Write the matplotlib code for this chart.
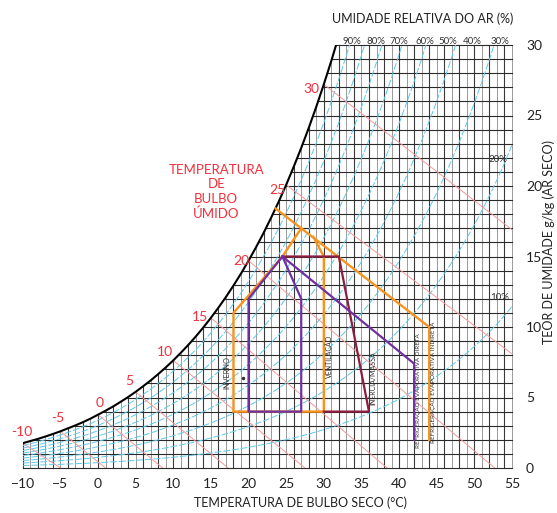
import matplotlib
matplotlib.use("Agg")
import matplotlib.pyplot as plt
import numpy as np

plt.rcParams["font.family"] = ["Lato", "DejaVu Sans"]

# saturation humidity ratio (g/kg dry air) at each whole degree, -10 .. 55 C
temp = list(range(-10, 56))
w_sat = [
    1.76, 1.91, 2.06, 2.23, 2.41, 2.60, 2.81, 3.02, 3.25, 3.50,
    3.78, 4.06, 4.36, 4.69, 5.03, 5.40, 5.80, 6.21, 6.66, 7.13,
    7.63, 8.17, 8.73, 9.33, 9.97, 10.65, 11.37, 12.13, 12.94, 13.79,
    14.70, 15.66, 16.67, 17.75, 18.88, 20.08, 21.36, 22.70, 24.12, 25.62,
    27.21, 28.88, 30.65, 32.52, 34.50, 36.58, 38.78, 41.11, 43.56, 46.15,
    48.89, 51.78, 54.83, 58.05, 61.46, 65.05, 68.85, 72.86, 77.09, 81.57,
    86.29, 91.29, 96.57, 102.16, 108.07, 114.50,
]
rh_levels = [0.1, 0.2, 0.3, 0.4, 0.5, 0.6, 0.7, 0.8, 0.9]
rh_top_labels = ["90%", "80%", "70%", "60%", "50%", "40%", "30%"]

# wet-bulb lines: start temp on saturation, end point
wb_temps = [-10, -5, 0, 5, 10, 15, 20, 25, 30]
wb_end_t = [-4.95, 1.0, 8.6, 17.3, 27.5, 38.4, 52.7, 55.0, 55.0]
wb_end_w = [0, 0, 0, 0, 0, 0, 0, 8.1, 16.9]

# zone outlines (dry bulb C, humidity g/kg)
orange_top = ([23.6, 44, 44], [18.4, 10, 2])
orange_left = ([30, 18, 18, 24.5, 27], [4, 4, 11, 15, 17.0])
orange_vent = ([28.6, 30, 30], [16.4, 15, 4])
purple_comf = ([24.5, 20, 20, 27, 27, 24.5], [15, 12, 4, 4, 12, 15])
purple_evap = ([24.5, 42, 42], [15, 7.4, 2])
maroon_mass = ([24.5, 32, 36, 30], [15, 15, 4, 4])

zone_labels = ["INVERNO", "VENTILAÇÃO", "INÉRCIA/MASSA",
               "REFRIGERAÇÃO EVAPORATIVA DIRETA",
               "REFRIGERAÇÃO EVAPORATIVA INDIRETA"]

T = np.array(temp, dtype=float)
WS = np.array(w_sat)

fig = plt.figure(figsize=(5.57, 5.13), dpi=100)
ax = fig.add_axes([22.7 / 557, 45 / 513, (512 - 22.7) / 557, 423 / 513])
ax.set_xlim(-10, 55)
ax.set_ylim(0, 30)
for s in ax.spines.values():
    s.set_visible(False)

# grid, kept below the saturation curve
for t, ws in zip(temp, w_sat):
    dark = t % 2 == 0
    ax.plot([t, t], [0, min(ws, 30)], color="#3a3a3a" if dark else "#8a8a8a",
            lw=0.8 if dark else 0.6, zorder=1, clip_on=False)
for w in range(0, 31):
    t_start = max(-10.0, float(np.interp(w, WS, T)))
    ax.plot([t_start, 55], [w, w], color="#2a2a2a", lw=0.8, zorder=1,
            clip_on=False)

# blank out area above saturation
ax.fill_between(T, WS, 30.3, where=WS < 30.3, interpolate=True,
                color="white", zorder=2, clip_on=False, lw=0)

# relative humidity curves
for phi in rh_levels:
    ax.plot(T, WS * phi, color="#5ec8ea", lw=0.7, ls=(0, (7, 2)), zorder=3)

# wet-bulb lines
for tw, te, we in zip(wb_temps, wb_end_t, wb_end_w):
    ws0 = WS[temp.index(tw)]
    ax.plot([tw, te], [ws0, we], color="#f29a9a", lw=0.7, zorder=3)

ax.plot(T, WS, color="black", lw=1.5, zorder=4)

# zones
oc, pc, mc = "#f7941d", "#7030a0", "#8c1d3f"
for xs, ys in (orange_top, orange_left, orange_vent):
    ax.plot(xs, ys, color=oc, lw=1.7, zorder=5, solid_joinstyle="miter")
ax.plot(*maroon_mass, color=mc, lw=1.6, zorder=6)
for xs, ys in (purple_comf, purple_evap):
    ax.plot(xs, ys, color=pc, lw=1.6, zorder=7)

# zone texts
zl_pos = [(17.1, 6.8), (30.7, 7.9), (36.5, 6.4), (42.6, 5.5), (44.5, 6.1)]
zl_size = [5.3, 5.0, 5.0, 4.5, 4.5]
for txt, (x, y), fs in zip(zone_labels, zl_pos, zl_size):
    ax.text(x, y, txt, rotation=90, fontsize=fs, color="#333333",
            ha="center", va="center", zorder=8)
ax.plot([19.3], [6.4], "o", ms=1.5, color="#333333", zorder=8)

# wet-bulb labels
wb_lab_pos = [(-10.1, 2.55), (-5.4, 3.55), (0.27, 4.6), (4.1, 6.2), (8.9, 8.2),
              (13.55, 10.7), (19.0, 14.7), (23.9, 19.7), (28.4, 26.9)]
for tw, (x, y) in zip(wb_temps, wb_lab_pos):
    ax.text(x, y, str(tw), color="#f0303c", fontsize=10, ha="center",
            va="center", zorder=8)
ax.text(15.7, 19.6, "TEMPERATURA\nDE\nBULBO\nÚMIDO", color="#f0303c",
        fontsize=9.5, ha="center", va="center", linespacing=1.25)

# rh labels
rh_x = [351.7, 375.7, 399.3, 425, 448.3, 472.7, 500]
for lab, px in zip(rh_top_labels, rh_x):
    fig.text(px / 557, 1 - 42 / 513, lab, fontsize=7, color="#333333",
             ha="center", va="center")
fig.text(498 / 557, 1 - 160 / 513, "20%", fontsize=7, color="#333333",
         ha="center", va="center")
fig.text(500 / 557, 1 - 297 / 513, "10%", fontsize=7, color="#333333",
         ha="center", va="center")

# axes ticks
ax.set_xticks(range(-10, 56, 5))
ax.set_yticks(range(0, 31, 5))
ax.yaxis.tick_right()
ax.tick_params(axis="x", length=0, pad=7, labelsize=10, colors="#222222")
ax.tick_params(axis="y", length=0, pad=10, labelsize=10, colors="#222222")

fig.text(423 / 557, 1 - 19 / 513, "UMIDADE RELATIVA DO AR (%)", fontsize=9,
         ha="center", va="center", color="#222222")
fig.text(300 / 557, 1 - 503 / 513, "TEMPERATURA DE BULBO SECO (°C)", fontsize=9,
         ha="center", va="center", color="#222222")
fig.text(549 / 557, 1 - 242 / 513, "TEOR DE UMIDADE g/kg (AR SECO)", fontsize=9,
         rotation=90, ha="center", va="center", color="#222222")

fig.savefig("out.png", dpi=100)
